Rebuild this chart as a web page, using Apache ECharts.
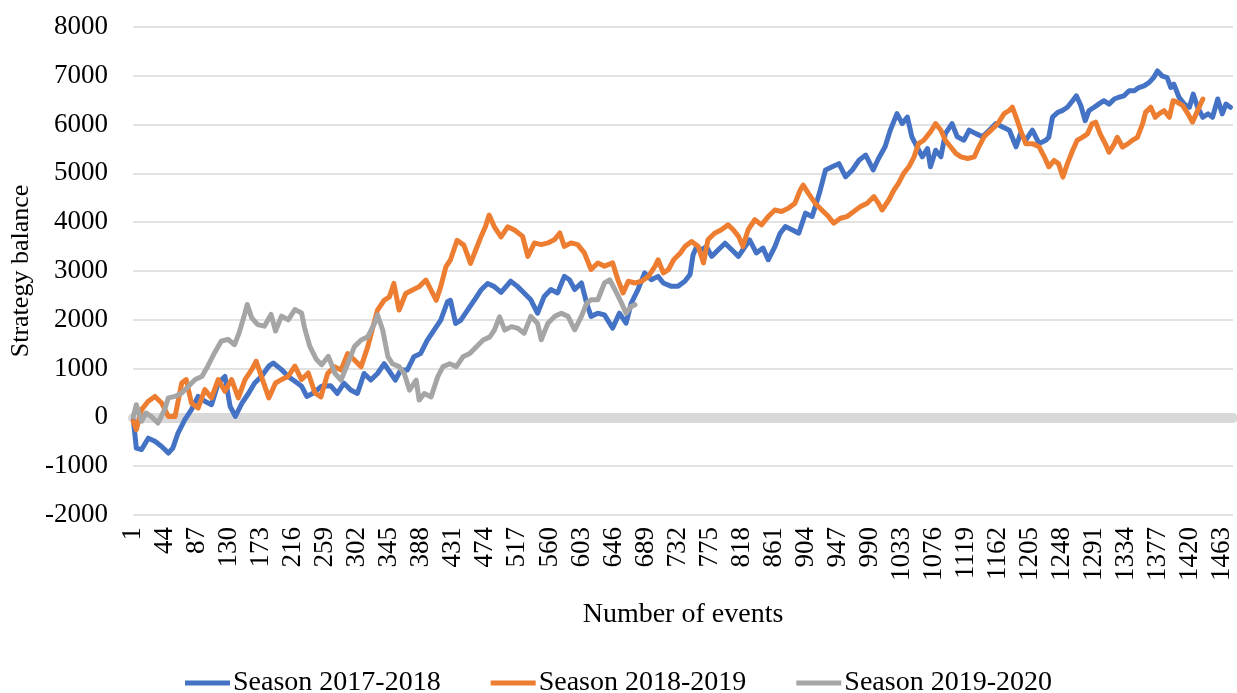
<!DOCTYPE html>
<html>
<head>
  <meta charset="utf-8">
  <title>Strategy balance</title>
  <script src="https://cdn.jsdelivr.net/npm/echarts@6/dist/echarts.min.js"></script>
  <style>
    html, body { margin: 0; padding: 0; background: #fff; }
    #chart { width: 1237px; height: 693px; }
  </style>
</head>
<body>
<div id="chart"></div>
<script>
  // number of events on the category axis
  var eventCount = 1478

  // Season 2017-2018 (blue): event number / balance
  var s1718Events = [1, 5, 12, 21, 30, 39, 48, 54, 61, 70, 79, 88, 97, 106, 115, 124, 131, 138, 147, 156, 164, 173, 183, 189, 200, 209, 218, 227, 234, 243, 254, 266, 275, 284, 293, 302, 311, 320, 329, 338, 347, 353, 360, 369, 378, 387, 396, 405, 414, 423, 427, 434, 441, 450, 459, 468, 477, 486, 495, 508, 517, 526, 535, 544, 553, 562, 571, 580, 587, 594, 603, 610, 616, 625, 634, 645, 654, 663, 670, 679, 688, 697, 706, 713, 724, 733, 742, 749, 753, 758, 764, 771, 778, 787, 796, 805, 814, 820, 829, 838, 847, 854, 863, 870, 877, 886, 895, 904, 913, 920, 924, 931, 940, 949, 958, 967, 976, 985, 995, 1002, 1011, 1018, 1027, 1034, 1041, 1047, 1054, 1061, 1068, 1072, 1079, 1086, 1092, 1101, 1108, 1117, 1124, 1133, 1142, 1151, 1160, 1169, 1178, 1187, 1193, 1200, 1209, 1218, 1227, 1231, 1236, 1243, 1249, 1256, 1263, 1268, 1274, 1280, 1285, 1292, 1298, 1305, 1312, 1319, 1325, 1332, 1339, 1346, 1352, 1359, 1366, 1372, 1377, 1383, 1390, 1395, 1399, 1406, 1413, 1420, 1425, 1431, 1438, 1445, 1451, 1458, 1464, 1469, 1475]
  var s1718Values = [-60, -630, -660, -425, -490, -595, -730, -630, -320, -50, 160, 430, 330, 260, 705, 840, 225, 20, 295, 500, 705, 840, 1050, 1115, 980, 840, 740, 640, 430, 500, 640, 650, 490, 700, 560, 490, 900, 765, 900, 1100, 900, 765, 970, 970, 1245, 1310, 1585, 1790, 1995, 2370, 2400, 1925, 1995, 2200, 2400, 2610, 2745, 2680, 2560, 2790, 2685, 2550, 2410, 2135, 2480, 2620, 2550, 2890, 2820, 2620, 2755, 2340, 2070, 2135, 2100, 1830, 2135, 1930, 2340, 2620, 2960, 2820, 2890, 2755, 2685, 2690, 2790, 2930, 3330, 3500, 3435, 3500, 3300, 3435, 3570, 3435, 3300, 3435, 3640, 3370, 3470, 3230, 3500, 3775, 3910, 3845, 3775, 4185, 4115, 4455, 4660, 5070, 5135, 5200, 4930, 5070, 5270, 5375, 5070, 5300, 5545, 5885, 6225, 6020, 6155, 5750, 5545, 5340, 5510, 5135, 5475, 5340, 5815, 6020, 5750, 5680, 5885, 5815, 5750, 5885, 6020, 5950, 5885, 5545, 5815, 5680, 5885, 5610, 5680, 5740, 6155, 6250, 6285, 6355, 6490, 6590, 6390, 6080, 6285, 6355, 6420, 6490, 6420, 6525, 6560, 6590, 6695, 6695, 6760, 6795, 6865, 6965, 7100, 7000, 6965, 6760, 6830, 6560, 6420, 6355, 6625, 6355, 6150, 6220, 6150, 6525, 6220, 6420, 6355]

  // Season 2018-2019 (orange)
  var s1819Events = [1, 5, 12, 21, 30, 39, 48, 57, 66, 72, 79, 88, 97, 106, 115, 124, 133, 142, 151, 160, 166, 173, 183, 192, 200, 209, 218, 227, 236, 245, 253, 262, 271, 280, 289, 298, 307, 316, 323, 329, 338, 345, 351, 358, 367, 376, 385, 394, 401, 408, 414, 421, 427, 436, 445, 454, 461, 468, 474, 479, 486, 495, 504, 513, 524, 531, 540, 549, 558, 567, 574, 580, 589, 598, 607, 616, 625, 634, 645, 652, 659, 666, 675, 684, 693, 702, 706, 713, 720, 727, 736, 742, 751, 760, 767, 773, 782, 791, 800, 807, 814, 820, 827, 836, 845, 854, 863, 872, 881, 890, 897, 901, 908, 917, 926, 935, 942, 951, 960, 969, 978, 987, 996, 1002, 1007, 1016, 1023, 1029, 1036, 1043, 1050, 1056, 1063, 1072, 1079, 1086, 1092, 1099, 1106, 1113, 1122, 1131, 1137, 1144, 1151, 1158, 1164, 1171, 1178, 1182, 1187, 1193, 1200, 1209, 1218, 1225, 1231, 1238, 1244, 1250, 1256, 1263, 1269, 1276, 1283, 1289, 1294, 1300, 1307, 1312, 1319, 1323, 1330, 1337, 1343, 1350, 1357, 1361, 1368, 1374, 1379, 1386, 1393, 1398, 1404, 1411, 1418, 1424, 1429, 1434, 1438]
  var s1819Values = [-80, -250, 160, 330, 430, 295, 20, 20, 705, 775, 295, 190, 570, 400, 775, 535, 775, 400, 775, 980, 1150, 840, 400, 705, 775, 840, 1050, 775, 910, 500, 420, 900, 1040, 970, 1310, 1175, 1040, 1450, 1860, 2200, 2400, 2470, 2745, 2200, 2540, 2610, 2680, 2815, 2610, 2400, 2680, 3090, 3225, 3630, 3530, 3155, 3430, 3700, 3905, 4145, 3905, 3700, 3905, 3840, 3710, 3300, 3575, 3540, 3575, 3645, 3780, 3505, 3575, 3540, 3370, 3030, 3165, 3100, 3165, 2820, 2550, 2790, 2755, 2790, 2890, 3100, 3230, 2960, 3030, 3230, 3370, 3500, 3605, 3500, 3165, 3640, 3775, 3845, 3945, 3845, 3710, 3500, 3845, 4050, 3945, 4115, 4250, 4220, 4285, 4390, 4660, 4760, 4590, 4390, 4250, 4115, 3980, 4080, 4115, 4220, 4320, 4390, 4525, 4390, 4250, 4455, 4660, 4795, 5000, 5135, 5340, 5610, 5680, 5850, 6020, 5885, 5680, 5545, 5410, 5340, 5305, 5340, 5545, 5750, 5850, 5950, 6055, 6225, 6290, 6360, 6155, 5885, 5610, 5610, 5545, 5340, 5135, 5265, 5200, 4925, 5200, 5470, 5675, 5740, 5810, 6015, 6050, 5810, 5605, 5435, 5605, 5740, 5540, 5605, 5675, 5740, 6015, 6250, 6355, 6150, 6220, 6285, 6150, 6490, 6455, 6390, 6220, 6050, 6220, 6390, 6525]

  // Season 2019-2020 (gray)
  var s1920Events = [1, 5, 12, 18, 25, 34, 43, 48, 57, 66, 75, 84, 93, 101, 110, 119, 128, 137, 143, 151, 154, 160, 168, 177, 186, 192, 200, 209, 218, 227, 231, 238, 247, 254, 263, 272, 280, 289, 298, 307, 316, 325, 329, 336, 343, 349, 358, 365, 372, 381, 385, 392, 401, 410, 417, 426, 435, 444, 453, 462, 471, 480, 486, 493, 500, 509, 517, 526, 535, 544, 549, 558, 567, 576, 585, 594, 603, 610, 616, 625, 634, 641, 648, 657, 663, 670, 675]
  var s1920Values = [20, 260, -80, 90, 20, -115, 160, 400, 430, 500, 640, 775, 840, 1050, 1320, 1560, 1600, 1490, 1730, 2140, 2315, 2040, 1900, 1870, 2110, 1770, 2075, 2000, 2210, 2140, 1835, 1460, 1185, 1080, 1250, 900, 765, 1100, 1450, 1585, 1650, 1925, 2100, 1790, 1245, 1100, 1040, 900, 560, 765, 355, 490, 420, 835, 1040, 1100, 1040, 1245, 1310, 1450, 1585, 1650, 1790, 2060, 1790, 1860, 1830, 1725, 2070, 1930, 1590, 1930, 2070, 2135, 2070, 1795, 2070, 2340, 2410, 2410, 2755, 2820, 2620, 2340, 2135, 2275, 2310]

  var seriesNames = ['Season 2017-2018', 'Season 2018-2019', 'Season 2019-2020']
  var seriesColors = ['#4472C4', '#ED7D31', '#A5A5A5']

  var categories = []
  for (var i = 1; i <= eventCount; i++) {
    categories.push(String(i))
  }

  // category index = event - 1
  function toPoints(events, values) {
    return events.map(function (e, k) {
      return [e - 1, values[k]]
    })
  }

  var font = 'Liberation Serif, Times New Roman, serif'

  function makeSeries(idx, data) {
    return {
      name: seriesNames[idx],
      type: 'line',
      xAxisIndex: 0,
      data: data,
      showSymbol: false,
      symbol: 'none',
      z: 3 + idx,
      lineStyle: { color: seriesColors[idx], width: 5, join: 'round', cap: 'round' },
      itemStyle: { color: seriesColors[idx] }
    }
  }

  var chart = echarts.init(document.getElementById('chart'))
  chart.setOption({
    animation: false,
    backgroundColor: '#fff',
    textStyle: { fontFamily: font, color: '#000' },
    grid: { left: 133, right: 4, top: 27, bottom: 178 },
    legend: {
      data: seriesNames,
      top: 664,
      left: 'center',
      icon: 'rect',
      itemWidth: 45,
      itemHeight: 5,
      itemGap: 50,
      textStyle: { fontFamily: font, fontSize: 28, color: '#000', padding: [0, 0, 0, -2] }
    },
    xAxis: [{
      type: 'category',
      data: categories,
      boundaryGap: true,
      name: 'Number of events',
      nameLocation: 'middle',
      nameGap: 86,
      nameTextStyle: { fontFamily: font, fontSize: 28, color: '#000' },
      axisLine: { show: false, onZero: false },
      axisTick: { show: false },
      axisLabel: {
        interval: 42,
        rotate: 90,
        margin: 12,
        fontFamily: font,
        fontSize: 27,
        color: '#000'
      },
      splitLine: { show: false }
    }, {
      // thick horizontal axis line at zero
      type: 'category',
      data: categories,
      position: 'bottom',
      axisLine: { show: true, onZero: true, lineStyle: { color: '#d9d9d9', width: 10 } },
      axisTick: { show: false },
      axisLabel: { show: false },
      splitLine: { show: false }
    }],
    yAxis: {
      type: 'value',
      min: -2000,
      max: 8000,
      interval: 1000,
      name: 'Strategy balance',
      nameLocation: 'middle',
      nameGap: 98,
      nameTextStyle: { fontFamily: font, fontSize: 26, color: '#000' },
      axisLine: { show: false },
      axisTick: { show: false },
      axisLabel: {
        margin: 25,
        fontFamily: font,
        fontSize: 27,
        color: '#000',
        formatter: function (v) { return String(v) }
      },
      splitLine: { lineStyle: { color: '#d9d9d9', width: 1.5 } }
    },
    series: [
      makeSeries(0, toPoints(s1718Events, s1718Values)),
      makeSeries(1, toPoints(s1819Events, s1819Values)),
      makeSeries(2, toPoints(s1920Events, s1920Values))
    ]
  })
</script>
</body>
</html>
